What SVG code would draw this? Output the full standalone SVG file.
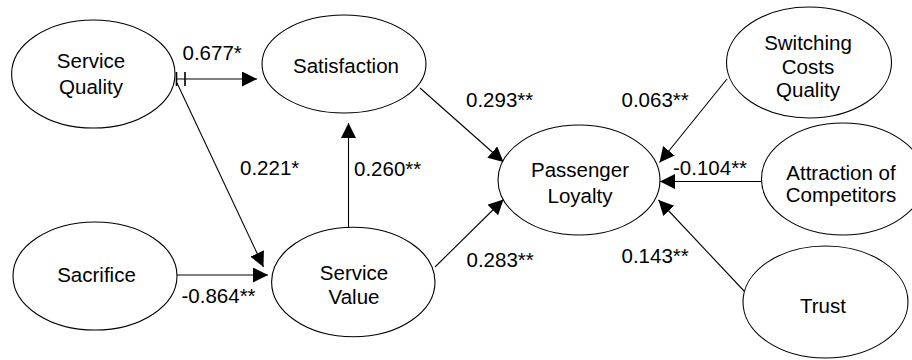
<svg xmlns="http://www.w3.org/2000/svg" width="912" height="360" viewBox="0 0 912 360">
<style>
.node ellipse{fill:#fff;stroke:#000;stroke-width:1.1}
text{font-family:"Liberation Sans",Arial,sans-serif;font-size:20.5px;fill:#000}
.node text{text-anchor:middle}
.edge{stroke:#000;stroke-width:1.1;fill:none;marker-end:url(#arrow)}
</style>
<defs>
<marker id="arrow" markerUnits="userSpaceOnUse" markerWidth="16" markerHeight="16" viewBox="0 0 16 16" refX="15" refY="7.5" orient="auto">
<path d="M0,0 L15,7.5 L0,15 Z" fill="#000"/>
</marker>
</defs>
<rect width="912" height="360" fill="#fff"/>
<g id="connectors">
<line class="edge" x1="176" y1="79" x2="257" y2="79"/>
<path d="M176.5,72 V86 M185,72 V86" stroke="#000" stroke-width="1.6" fill="none"/>
<line class="edge" x1="177" y1="83" x2="263.5" y2="267"/>
<line class="edge" x1="177" y1="275" x2="268" y2="275"/>
<line class="edge" x1="348.5" y1="227" x2="348.5" y2="123"/>
<line class="edge" x1="420" y1="88" x2="503.5" y2="162"/>
<line class="edge" x1="435" y1="267" x2="503.5" y2="199.5"/>
<line class="edge" x1="727" y1="79" x2="659.5" y2="162.5"/>
<line class="edge" x1="761.5" y1="181.5" x2="660" y2="181.5"/>
<line class="edge" x1="745" y1="292" x2="658.5" y2="200"/>
</g>
<g id="labels">
<text x="182.5" y="59.5">0.677*</text>
<text x="240" y="175">0.221*</text>
<text x="354" y="176">0.260**</text>
<text x="181.5" y="303">-0.864**</text>
<text x="466" y="107">0.293**</text>
<text x="466.5" y="267">0.283**</text>
<text x="621.5" y="107">0.063**</text>
<text x="673" y="175">-0.104**</text>
<text x="621.5" y="263">0.143**</text>
</g>
<g id="service-quality" class="node">
<ellipse cx="93.3" cy="74" rx="81.7" ry="54"/>
<text x="91" y="68">Service</text>
<text x="91" y="94">Quality</text>
</g>
<g id="satisfaction" class="node">
<ellipse cx="344" cy="64" rx="82" ry="49"/>
<text x="346" y="72.5">Satisfaction</text>
</g>
<g id="sacrifice" class="node">
<ellipse cx="95" cy="276" rx="82" ry="54"/>
<text x="96.5" y="282">Sacrifice</text>
</g>
<g id="service-value" class="node">
<ellipse cx="353.3" cy="282" rx="81.7" ry="54.7"/>
<text x="354" y="280">Service</text>
<text x="354" y="304">Value</text>
</g>
<g id="passenger-loyalty" class="node">
<ellipse cx="579" cy="180" rx="81" ry="55"/>
<text x="580" y="177">Passenger</text>
<text x="580" y="203">Loyalty</text>
</g>
<g id="switching-costs" class="node">
<ellipse cx="809" cy="62.5" rx="82.5" ry="55.5"/>
<text x="808" y="50">Switching</text>
<text x="808" y="74">Costs</text>
<text x="808" y="97">Quality</text>
</g>
<g id="attraction" class="node">
<ellipse cx="843" cy="179" rx="81.5" ry="56"/>
<text x="841" y="180">Attraction of</text>
<text x="841" y="202">Competitors</text>
</g>
<g id="trust" class="node">
<ellipse cx="825.5" cy="302" rx="82.5" ry="56"/>
<text x="823" y="313">Trust</text>
</g>
</svg>
